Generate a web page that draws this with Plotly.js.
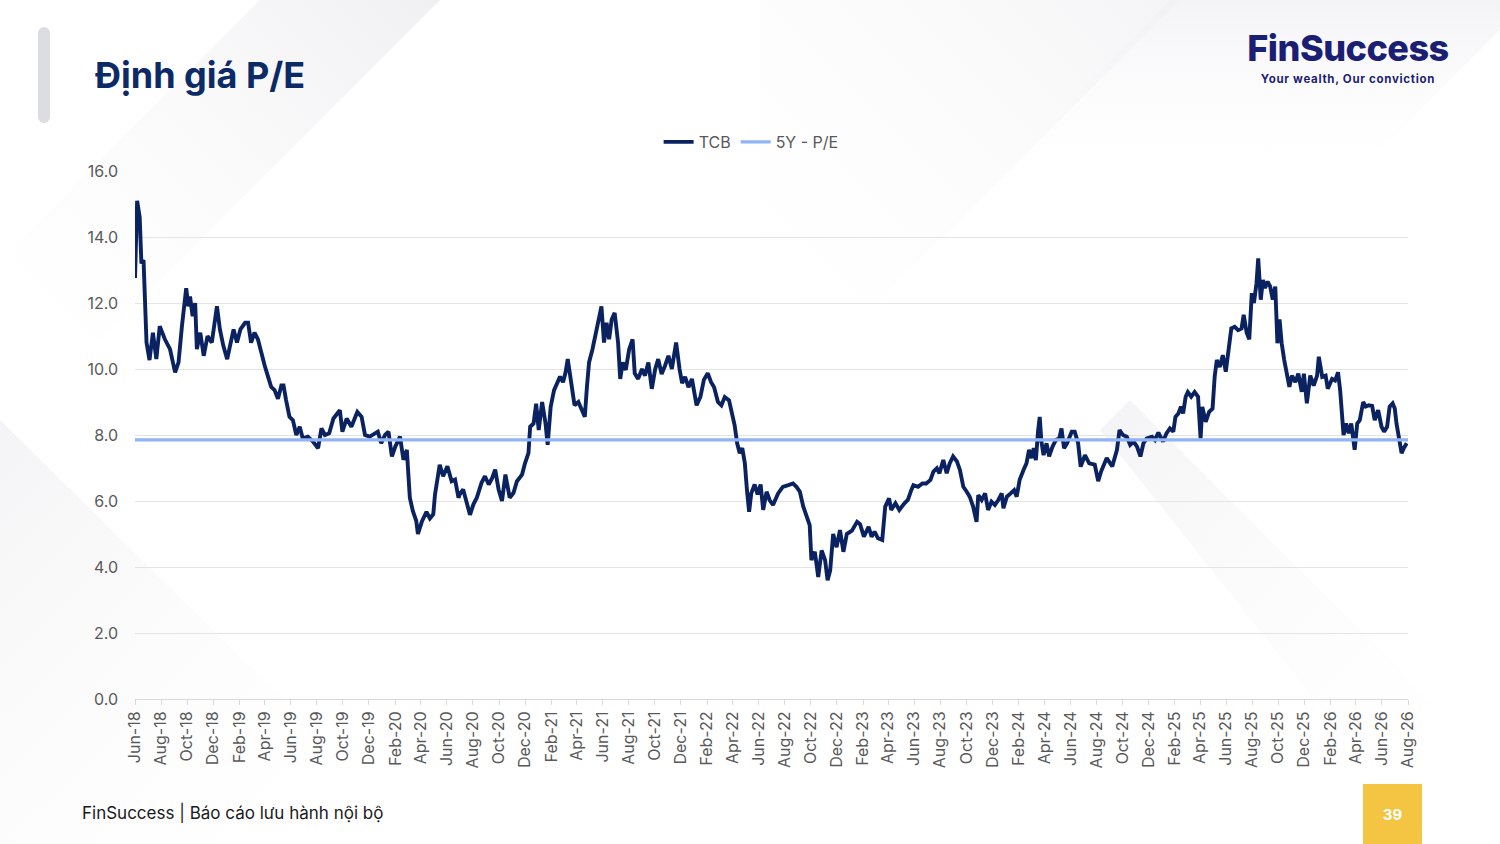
<!DOCTYPE html>
<html>
<head>
<meta charset="utf-8">
<script src="https://cdn.plot.ly/plotly-3.0.1.min.js"></script>
<style>
  html, body { margin:0; padding:0; width:1500px; height:844px; overflow:hidden; background:#ffffff; font-family: Inter, "Open Sans", sans-serif; }
  #bg { position:absolute; left:0; top:0; width:1500px; height:844px; z-index:0; }
  #chart { position:absolute; left:0; top:0; width:1500px; height:844px; z-index:1; }
  .deco { position:absolute; z-index:2; }
  #leftbar { left:38px; top:27px; width:12px; height:96px; border-radius:6px; background:#dcdce3; }
  #logo { left:1246px; top:26px; width:204px; text-align:center; }
  #logo .brand { font-family: Inter, sans-serif; font-weight:800; font-size:36px; color:#1b1f73; letter-spacing:-0.5px; line-height:44px; }
  #logo .tag { font-family: Inter, sans-serif; font-weight:700; font-size:11.5px; color:#1b1f73; letter-spacing:0.7px; margin-top:2px; }
  #footer { left:82px; top:803px; font-family: Inter, sans-serif; font-size:17px; color:#1a1a1a; }
  #page { left:1363px; top:784px; width:59px; height:60px; background:#f4c542; color:#ffffff; font-family: Inter, sans-serif; font-weight:700; font-size:15px; display:flex; align-items:center; justify-content:center; }
</style>
</head>
<body>
<svg id="bg" viewBox="0 0 1500 844" xmlns="http://www.w3.org/2000/svg">
  <defs>
    <linearGradient id="g1" x1="0" y1="0" x2="1" y2="1">
      <stop offset="0" stop-color="#ededf0" stop-opacity="0.9"/>
      <stop offset="1" stop-color="#ffffff" stop-opacity="0"/>
    </linearGradient>
    <linearGradient id="g2" x1="1" y1="0" x2="0" y2="1">
      <stop offset="0" stop-color="#eeeef1" stop-opacity="0.9"/>
      <stop offset="1" stop-color="#ffffff" stop-opacity="0"/>
    </linearGradient>
    <linearGradient id="g3" x1="0" y1="0" x2="0" y2="1">
      <stop offset="0" stop-color="#f1f1f5" stop-opacity="1"/>
      <stop offset="1" stop-color="#ffffff" stop-opacity="0"/>
    </linearGradient>
  </defs>
  <polygon points="260,0 440,0 0,440 0,260" fill="url(#g2)"/>
  <polygon points="0,420 0,844 430,844" fill="url(#g1)" opacity="0.7"/>
  <polygon points="760,0 1180,0 760,420" fill="url(#g2)" opacity="0.7"/>
  <polygon points="1170,0 1500,0 1500,30 1330,200 1000,170" fill="url(#g3)" opacity="0.8"/>
  <polygon points="1130,400 1500,770 1500,844 1430,844 1100,430" fill="url(#g1)" opacity="0.7"/>
</svg>
<div id="chart"></div>
<div id="leftbar" class="deco"></div>
<div id="logo" class="deco"><div class="brand">FinSuccess</div><div class="tag">Your wealth, Our conviction</div></div>
<div id="footer" class="deco">FinSuccess | Báo cáo lưu hành nội bộ</div>
<div id="page" class="deco">39</div>
<script>
// ---- Data ----
const tcbDates = [
"2018-06-01","2018-06-06","2018-06-12","2018-06-16","2018-06-21","2018-06-28","2018-07-05","2018-07-13","2018-07-21","2018-07-29",
"2018-08-10","2018-08-22","2018-09-03","2018-09-11","2018-09-19","2018-09-22","2018-09-29","2018-10-04","2018-10-08","2018-10-14",
"2018-10-20","2018-10-24","2018-11-01","2018-11-09","2018-11-18","2018-11-28","2018-12-06","2018-12-10","2018-12-17","2018-12-25",
"2019-01-03","2019-01-10","2019-01-18","2019-01-26","2019-02-03","2019-02-14","2019-02-21","2019-02-28","2019-03-08","2019-03-16",
"2019-03-23","2019-04-01","2019-04-08","2019-04-16","2019-04-24","2019-05-02","2019-05-10","2019-05-15","2019-05-21","2019-05-29",
"2019-06-06","2019-06-14","2019-06-22","2019-06-29","2019-07-11","2019-07-23","2019-08-04","2019-08-12","2019-08-20","2019-08-30",
"2019-09-09","2019-09-17","2019-09-24","2019-09-30","2019-10-10","2019-10-21","2019-11-04","2019-11-14","2019-11-22","2019-12-03",
"2019-12-15","2019-12-22","2019-12-30","2020-01-08","2020-01-16","2020-01-24","2020-02-01","2020-02-12","2020-02-20","2020-02-28",
"2020-03-06","2020-03-13","2020-03-21","2020-03-25","2020-04-03","2020-04-14","2020-04-22","2020-04-30","2020-05-04","2020-05-08",
"2020-05-15","2020-05-23","2020-06-02","2020-06-12","2020-06-20","2020-06-28","2020-07-01","2020-07-09","2020-07-17","2020-07-25",
"2020-08-02","2020-08-10","2020-08-21","2020-08-29","2020-09-07","2020-09-15","2020-09-22","2020-09-30","2020-10-08","2020-10-16",
"2020-10-26","2020-11-04","2020-11-12","2020-11-24","2020-12-01","2020-12-09","2020-12-13","2020-12-21","2020-12-27","2021-01-02",
"2021-01-10","2021-01-18","2021-01-23","2021-01-30","2021-02-07","2021-02-14","2021-02-21","2021-02-28","2021-03-06","2021-03-11",
"2021-03-19","2021-03-27","2021-04-05","2021-04-12","2021-04-20","2021-04-25","2021-04-30","2021-05-08","2021-05-16","2021-05-21",
"2021-05-29","2021-06-04","2021-06-10","2021-06-16","2021-06-22","2021-06-29","2021-07-07","2021-07-12","2021-07-18","2021-07-25",
"2021-08-02","2021-08-10","2021-08-15","2021-08-23","2021-09-01","2021-09-08","2021-09-16","2021-09-24","2021-10-02","2021-10-09",
"2021-10-17","2021-10-25","2021-11-02","2021-11-10","2021-11-20","2021-11-28","2021-12-04","2021-12-11","2021-12-19","2021-12-27",
"2022-01-07","2022-01-16","2022-01-24","2022-02-02","2022-02-10","2022-02-17","2022-02-26","2022-03-06","2022-03-14","2022-03-24",
"2022-04-01","2022-04-06","2022-04-12","2022-04-18","2022-04-24","2022-04-30","2022-05-05","2022-05-10","2022-05-15","2022-05-23",
"2022-05-30","2022-06-06","2022-06-12","2022-06-20","2022-06-27","2022-07-05","2022-07-17","2022-07-28","2022-08-10","2022-08-21",
"2022-08-29","2022-09-06","2022-09-14","2022-09-22","2022-09-29","2022-10-03","2022-10-11","2022-10-19","2022-10-27","2022-11-04",
"2022-11-10","2022-11-16","2022-11-23","2022-12-01","2022-12-09","2022-12-17","2022-12-25","2023-01-06","2023-01-18","2023-01-25",
"2023-02-03","2023-02-14","2023-02-21","2023-02-28","2023-03-08","2023-03-18","2023-03-25","2023-04-03","2023-04-08","2023-04-18",
"2023-04-27","2023-05-09","2023-05-17","2023-05-25","2023-05-30","2023-06-10","2023-06-20","2023-06-29","2023-07-09","2023-07-16",
"2023-07-24","2023-07-30","2023-08-08","2023-08-16","2023-08-23","2023-08-31","2023-09-09","2023-09-16","2023-09-24","2023-10-02",
"2023-10-09","2023-10-17","2023-10-25","2023-10-29","2023-11-06","2023-11-14","2023-11-21","2023-11-29","2023-12-07","2023-12-15",
"2023-12-23","2023-12-27","2024-01-04","2024-01-13","2024-01-21","2024-01-27","2024-02-03","2024-02-12","2024-02-19","2024-02-25",
"2024-03-02","2024-03-07","2024-03-12","2024-03-17","2024-03-21","2024-03-25","2024-03-30","2024-04-06","2024-04-12","2024-04-20",
"2024-04-28","2024-05-06","2024-05-11","2024-05-17","2024-05-24","2024-06-04","2024-06-11","2024-06-19","2024-06-25","2024-07-05",
"2024-07-15","2024-07-28","2024-08-05","2024-08-12","2024-08-25","2024-09-07","2024-09-18","2024-09-24","2024-10-02","2024-10-11",
"2024-10-19","2024-10-27","2024-11-04","2024-11-12","2024-11-19","2024-11-27","2024-12-09","2024-12-16","2024-12-24","2025-01-04",
"2025-01-12","2025-01-20","2025-01-28","2025-02-02","2025-02-09","2025-02-15","2025-02-20","2025-02-26","2025-03-03","2025-03-11",
"2025-03-19","2025-03-27","2025-04-02","2025-04-06","2025-04-14","2025-04-22","2025-04-30","2025-05-05","2025-05-10","2025-05-17",
"2025-05-24","2025-05-31","2025-06-08","2025-06-13","2025-06-21","2025-06-29","2025-07-07","2025-07-12","2025-07-19","2025-07-25",
"2025-07-31","2025-08-05","2025-08-11","2025-08-15","2025-08-21","2025-08-26","2025-08-31","2025-09-06","2025-09-12","2025-09-18",
"2025-09-24","2025-09-29","2025-10-04","2025-10-09","2025-10-15","2025-10-21","2025-10-27","2025-11-02","2025-11-10","2025-11-17",
"2025-11-25","2025-11-30","2025-12-07","2025-12-15","2025-12-23","2025-12-31","2026-01-04","2026-01-12","2026-01-20","2026-01-25",
"2026-02-04","2026-02-11","2026-02-18","2026-02-23","2026-02-28","2026-03-03","2026-03-09","2026-03-15","2026-03-21","2026-03-29",
"2026-04-04","2026-04-10","2026-04-18","2026-04-24","2026-05-01","2026-05-09","2026-05-15","2026-05-23","2026-05-31","2026-06-06",
"2026-06-13","2026-06-19","2026-06-26","2026-07-01","2026-07-05","2026-07-11","2026-07-17","2026-07-22","2026-07-29"
];
const tcbPE = [
12.76,15.1,14.6,13.2,13.3,10.8,10.27,11.1,10.3,11.3,
10.9,10.6,9.9,10.2,11.3,11.7,12.45,11.9,12.2,11.6,
12.0,10.6,11.1,10.4,11.0,10.8,11.6,11.9,11.2,10.7,
10.3,10.7,11.2,10.8,11.2,11.4,11.4,10.8,11.1,10.9,
10.5,10.1,9.8,9.46,9.36,9.1,9.5,9.5,9.06,8.55,
8.45,8.0,8.25,7.9,7.95,7.8,7.6,8.2,8.0,8.05,
8.5,8.65,8.75,8.1,8.5,8.25,8.7,8.55,8.0,7.95,
8.05,8.1,7.75,8.0,8.1,7.35,7.65,7.95,7.25,7.55,
6.1,5.7,5.4,5.0,5.37,5.67,5.47,5.6,6.2,6.6,
7.1,6.75,7.05,6.6,6.65,6.1,6.2,6.35,6.0,5.58,
5.9,6.1,6.55,6.75,6.5,6.7,6.95,6.35,6.0,6.8,
6.1,6.25,6.6,6.8,7.15,7.45,8.25,8.35,8.95,8.15,
9.0,8.35,7.7,8.85,9.36,9.6,9.77,9.6,9.9,10.3,
9.67,8.9,9.0,8.75,8.55,9.46,10.2,10.6,11.1,11.5,
11.9,10.8,11.4,10.9,11.5,11.7,10.8,9.7,10.2,9.97,
10.6,10.9,9.87,9.7,10.0,9.8,10.2,9.4,10.0,10.3,
9.85,10.1,10.4,10.0,10.8,10.0,9.57,9.76,9.45,9.7,
8.9,9.16,9.67,9.87,9.6,9.45,9.0,8.9,9.15,9.05,
8.6,8.3,7.75,7.45,7.6,7.15,6.33,5.67,6.23,6.5,
6.2,6.5,5.73,6.28,6.03,5.88,6.23,6.43,6.48,6.53,
6.43,6.28,5.83,5.52,5.27,4.21,4.46,3.7,4.5,4.21,
3.6,3.9,5.0,4.6,5.12,4.46,5.0,5.1,5.37,5.3,
4.92,5.22,4.92,5.07,4.87,4.82,5.83,6.08,5.73,5.93,
5.73,5.93,6.03,6.33,6.48,6.43,6.53,6.53,6.64,6.89,
6.99,6.84,7.24,6.84,7.14,7.35,7.2,6.94,6.43,6.28,
6.13,5.83,5.37,6.18,6.03,6.23,5.73,5.98,5.88,6.03,
6.23,5.78,6.13,6.23,6.33,6.13,6.64,6.94,7.14,7.55,
7.3,7.6,7.24,8.1,8.55,7.8,7.39,7.75,7.35,7.65,
7.85,7.9,8.2,7.6,7.75,8.1,8.1,7.75,7.04,7.39,
7.14,7.1,6.6,6.9,7.3,7.05,7.55,8.15,8.0,7.95,
7.7,7.8,7.65,7.35,7.75,7.9,7.95,7.85,8.07,7.8,
8.05,8.2,8.1,8.55,8.65,8.86,8.65,9.16,9.3,9.16,
9.3,9.16,7.9,8.85,8.4,8.7,8.8,9.77,10.27,10.06,
10.42,9.92,10.67,11.23,11.28,11.18,11.23,11.64,11.1,10.9,
12.3,12.0,12.6,13.35,12.1,12.7,12.45,12.65,12.5,12.1,
12.5,10.78,11.5,10.78,10.27,9.77,9.46,9.8,9.6,9.86,
9.31,9.86,8.96,9.8,9.5,9.8,10.37,9.76,9.8,9.4,
9.7,9.65,9.9,9.36,8.45,8.0,8.35,8.05,8.35,7.55,
8.35,8.45,9.0,8.86,8.9,8.88,8.45,8.75,8.25,8.1,
8.25,8.86,8.96,8.8,8.35,7.95,7.45,7.6,7.75
];
const avgDates = ["2018-06-01","2026-08-01"];
const avgPE5Y = [7.85, 7.85];
const seriesNames = ["TCB", "5Y - P/E"];
const yTicks = [0, 2, 4, 6, 8, 10, 12, 14, 16];

const data = [
  { x: tcbDates, y: tcbPE, type: "scatter", mode: "lines", name: seriesNames[0],
    line: { color: "#0a2260", width: 3.9 } },
  { x: avgDates, y: avgPE5Y, type: "scatter", mode: "lines", name: seriesNames[1],
    line: { color: "#8fb3f5", width: 3.2 } }
];

const gray = "#595959";
const layout = {
  width: 1500, height: 844,
  paper_bgcolor: "rgba(0,0,0,0)", plot_bgcolor: "rgba(0,0,0,0)",
  margin: { l: 135, r: 92, t: 171, b: 145, pad: 0 },
  font: { family: "Inter, 'Open Sans', sans-serif", color: gray, size: 15 },
  title: { text: "Định giá P/E", xref: "container", yref: "container", x: 95/1500, xanchor: "left",
           y: 1 - 75/844, yanchor: "middle",
           font: { family: "Inter, sans-serif", size: 36, color: "#0b2a66", weight: 700 } },
  showlegend: true,
  legend: { orientation: "h", x: 0.484, xanchor: "center", y: 1.055, yanchor: "middle",
            font: { size: 16, color: gray }, bgcolor: "rgba(0,0,0,0)", itemwidth: 30, tracegroupgap: 0 },
  xaxis: {
    type: "date", range: ["2018-06-01", "2026-08-01"],
    tick0: "2018-06-01", dtick: "M2", tickformat: "%b-%y", tickangle: -90,
    showgrid: false, showline: true, linecolor: "#d9d9d9", linewidth: 1,
    ticks: "outside", ticklen: 5, tickcolor: "#d9d9d9", tickwidth: 1,
    tickfont: { size: 16, color: gray }, zeroline: false, fixedrange: true
  },
  yaxis: {
    range: [0, 16], tickvals: yTicks, tickformat: ".1f",
    showgrid: true, gridcolor: "#e4e4e4", gridwidth: 1, zeroline: false,
    showline: false, ticks: "", tickfont: { size: 16, color: gray },
    ticklabelstandoff: 16, fixedrange: true
  }
};

Plotly.newPlot("chart", data, layout, { displayModeBar: false, staticPlot: true });
</script>
</body>
</html>
